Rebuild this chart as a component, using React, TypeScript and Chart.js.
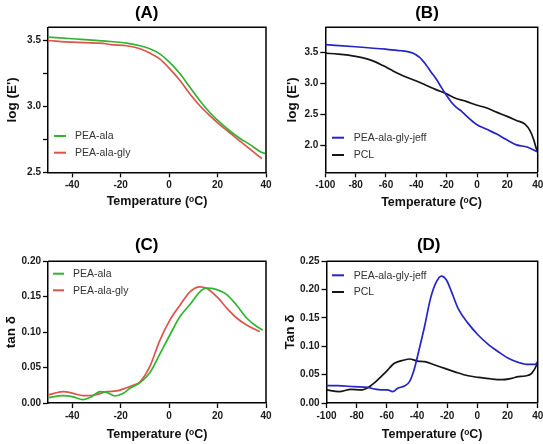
import React, { useEffect, useRef } from "react";
import { Chart, registerables } from "chart.js";
Chart.register(...registerables);

const FONT = '"Liberation Sans", Arial, Helvetica, sans-serif';
const W = 543;
const H = 444;

// ---------- Panel A : log(E') ----------
const aAlaTemp = [-50, -40, -26, -17.5, -12, -8, -4, 0, 4.5, 8.6, 12.7, 16.8, 21, 25, 29, 33.4, 38.3, 39.6];
const aAlaLogE = [3.525, 3.513, 3.495, 3.48, 3.46, 3.437, 3.4, 3.337, 3.247, 3.145, 3.043, 2.954, 2.878, 2.815, 2.76, 2.71, 2.65, 2.643];
const aGlyTemp = [-50, -40, -30, -26, -24, -17.5, -12, -8, -4, 0, 4.5, 8.6, 12.7, 16.8, 21, 25, 29, 33.4, 37.5, 38.3];
const aGlyLogE = [3.5, 3.487, 3.48, 3.475, 3.468, 3.46, 3.437, 3.405, 3.362, 3.29, 3.196, 3.094, 3.005, 2.93, 2.86, 2.8, 2.74, 2.676, 2.615, 2.605];

// ---------- Panel B : log(E') ----------
const bJeffTemp = [-100, -80, -60, -50, -45, -42, -40, -38, -36, -34, -32, -30, -27, -24, -20.5, -17, -13.8, -10, -7, -0.5, 6, 13, 19.4, 26, 33, 40];
const bJeffLogE = [3.63, 3.595, 3.555, 3.53, 3.512, 3.49, 3.462, 3.425, 3.375, 3.315, 3.245, 3.175, 3.075, 2.955, 2.82, 2.7, 2.615, 2.545, 2.475, 2.34, 2.26, 2.18, 2.09, 2.005, 1.97, 1.89];
const bPclTemp = [-100, -91.5, -80, -72, -67, -62, -57, -52, -46, -40, -34, -27, -20.5, -13.8, -7.2, -0.5, 6, 12.8, 19.4, 26, 31.6, 35, 37.2, 39.3, 40];
const bPclLogE = [3.49, 3.475, 3.44, 3.395, 3.35, 3.29, 3.225, 3.16, 3.095, 3.04, 2.975, 2.9, 2.835, 2.755, 2.71, 2.65, 2.605, 2.535, 2.47, 2.4, 2.34, 2.23, 2.1, 1.93, 1.89];

// ---------- Panel C : tan delta ----------
const cAlaTemp = [-50, -44, -40, -35.5, -32, -28.6, -25.8, -22.4, -18.9, -16.2, -12, -7.9, -4, 0.3, 4.5, 8.6, 12.7, 15.5, 19.7, 23.8, 27.9, 32, 36.2, 38.7];
const cAlaTan = [0.0075, 0.0103, 0.009, 0.0047, 0.009, 0.016, 0.015, 0.0099, 0.0137, 0.0207, 0.0287, 0.043, 0.068, 0.096, 0.122, 0.139, 0.157, 0.162, 0.16, 0.153, 0.138, 0.12, 0.108, 0.103];
const cGlyTemp = [-50, -43.7, -40, -35.5, -30.6, -25.8, -21.7, -18.2, -14.8, -12, -7.9, -4, 0.3, 4.5, 8.6, 12.7, 15.5, 19.7, 23.8, 27.9, 32, 36.9, 37.5];
const cGlyTan = [0.0113, 0.016, 0.014, 0.0103, 0.0113, 0.016, 0.017, 0.0207, 0.025, 0.03, 0.052, 0.087, 0.117, 0.138, 0.157, 0.164, 0.162, 0.15, 0.134, 0.12, 0.11, 0.1017, 0.101];

// ---------- Panel D : tan delta ----------
const dJeffTemp = [-100, -92.7, -81.6, -72.8, -68.3, -63.9, -59.5, -56.1, -52.8, -48.4, -45, -41.7, -38.4, -35, -31, -27.1, -23.8, -20.5, -17.1, -12.8, -6.1, 0.5, 7.2, 13.8, 20.5, 27.1, 33.8, 38.2, 40];
const dJeffTan = [0.0305, 0.0305, 0.0288, 0.0277, 0.0247, 0.023, 0.023, 0.02, 0.026, 0.03, 0.0376, 0.061, 0.0965, 0.135, 0.185, 0.214, 0.224, 0.217, 0.196, 0.167, 0.1405, 0.12, 0.1035, 0.0905, 0.0788, 0.0717, 0.068, 0.068, 0.072];
const dPclTemp = [-100, -91.6, -83.8, -77.2, -71.6, -66.1, -60.6, -55, -48.4, -45, -39.5, -34.9, -28.2, -21.6, -14.9, -6.1, 0.5, 9.4, 16.1, 22.7, 27.1, 31.6, 36, 39.3, 40];
const dPclTan = [0.023, 0.02, 0.024, 0.023, 0.0288, 0.0406, 0.055, 0.07, 0.0758, 0.0776, 0.074, 0.073, 0.067, 0.061, 0.055, 0.048, 0.0453, 0.0423, 0.0411, 0.0435, 0.0464, 0.0476, 0.0524, 0.067, 0.073];

// ---------- Ticks ----------
const xTicksShort = [-40, -20, 0, 20, 40];
const xTicksLong = [-100, -80, -60, -40, -20, 0, 20, 40];
const yTicksA = [2.5, 2.75, 3.0, 3.25, 3.5];
const yTicksB = [2.0, 2.5, 3.0, 3.5];
const yTicksC = [0, 0.05, 0.1, 0.15, 0.2];
const yTicksD = [0, 0.05, 0.1, 0.15, 0.2, 0.25];

const GREEN = "#2fb52f";
const RED = "#e0524c";
const BLUE = "#2424c8";
const BLACK = "#151515";

type Series = { label: string; xs: number[]; ys: number[]; color: string };
type PanelCfg = {
  area: { left: number; right: number; top: number; bottom: number };
  xMin: number; xMax: number; xTicks: number[];
  yMin: number; yMax: number; yTicks: number[]; yDec: number; yLabelStep: number;
  yTitle: string; yTitleX: number; xTitleY: number;
  title: string; titleX: number; titleY: number;
  series: Series[];
  legend: { x1: number; x2: number; tx: number; ys: number[] };
};

const Y_TITLE_SIZE = 13.5;
const X_TITLE_SIZE = 12.5;

const panels: PanelCfg[] = [
  {
    area: { left: 48, right: 266, top: 27.3, bottom: 172.3 },
    xMin: -50, xMax: 40, xTicks: xTicksShort,
    yMin: 2.5, yMax: 3.6, yTicks: yTicksA, yDec: 1, yLabelStep: 0.5,
    yTitle: "log (E')", yTitleX: 12, xTitleY: 201.7,
    title: "(A)", titleX: 146.7, titleY: 13.5,
    series: [
      { label: "PEA-ala", xs: aAlaTemp, ys: aAlaLogE, color: GREEN },
      { label: "PEA-ala-gly", xs: aGlyTemp, ys: aGlyLogE, color: RED },
    ],
    legend: { x1: 54, x2: 66, tx: 75, ys: [136, 152.7] },
  },
  {
    area: { left: 325.3, right: 537.7, top: 27.3, bottom: 172.3 },
    xMin: -100, xMax: 40, xTicks: xTicksLong,
    yMin: 1.56, yMax: 3.91, yTicks: yTicksB, yDec: 1, yLabelStep: 0.5,
    yTitle: "log (E')", yTitleX: 292, xTitleY: 202.7,
    title: "(B)", titleX: 427, titleY: 13.5,
    series: [
      { label: "PEA-ala-gly-jeff", xs: bJeffTemp, ys: bJeffLogE, color: BLUE },
      { label: "PCL", xs: bPclTemp, ys: bPclLogE, color: BLACK },
    ],
    legend: { x1: 332, x2: 344, tx: 353.7, ys: [137.7, 155] },
  },
  {
    area: { left: 48, right: 266, top: 261.3, bottom: 403 },
    xMin: -50, xMax: 40, xTicks: xTicksShort,
    yMin: 0, yMax: 0.2, yTicks: yTicksC, yDec: 2, yLabelStep: 0.05,
    yTitle: "tan δ", yTitleX: 11.5, xTitleY: 434.3,
    title: "(C)", titleX: 146.7, titleY: 245.3,
    series: [
      { label: "PEA-ala", xs: cAlaTemp, ys: cAlaTan, color: GREEN },
      { label: "PEA-ala-gly", xs: cGlyTemp, ys: cGlyTan, color: RED },
    ],
    legend: { x1: 53, x2: 64, tx: 73, ys: [273.7, 290.3] },
  },
  {
    area: { left: 326.5, right: 537.7, top: 261.3, bottom: 403 },
    xMin: -100, xMax: 40, xTicks: xTicksLong,
    yMin: 0, yMax: 0.25, yTicks: yTicksD, yDec: 2, yLabelStep: 0.05,
    yTitle: "Tan δ", yTitleX: 290.3, xTitleY: 434.3,
    title: "(D)", titleX: 428.7, titleY: 245.3,
    series: [
      { label: "PEA-ala-gly-jeff", xs: dJeffTemp, ys: dJeffTan, color: BLUE },
      { label: "PCL", xs: dPclTemp, ys: dPclTan, color: BLACK },
    ],
    legend: { x1: 332, x2: 344, tx: 353.7, ys: [275.3, 292] },
  },
];

function makeChart(canvas: HTMLCanvasElement, p: PanelCfg) {
  const yHalf = (Y_TITLE_SIZE * 1.2) / 2;
  const xHalf = (X_TITLE_SIZE * 1.2) / 2;
  const padLeft = p.yTitleX - yHalf;
  const yW = p.area.left - padLeft;
  const scaleBottom = p.xTitleY + xHalf;
  const padBottom = H - scaleBottom;
  const xH = scaleBottom - p.area.bottom;

  const decor = {
    id: "decor" + p.title,
    afterDraw(chart: any) {
      const ctx = chart.ctx as CanvasRenderingContext2D;
      const a = chart.chartArea;
      ctx.save();
      // frame top & right
      ctx.strokeStyle = "#000";
      ctx.lineWidth = 1.5;
      ctx.beginPath();
      ctx.moveTo(a.left, a.top);
      ctx.lineTo(a.right, a.top);
      ctx.lineTo(a.right, a.bottom);
      ctx.stroke();
      // panel title
      ctx.fillStyle = "#000";
      ctx.font = `bold 17px ${FONT}`;
      ctx.textAlign = "center";
      ctx.textBaseline = "middle";
      ctx.fillText(p.title, p.titleX, p.titleY);
      // legend
      ctx.font = `10.5px ${FONT}`;
      ctx.textAlign = "left";
      p.series.forEach((s, i) => {
        const y = p.legend.ys[i];
        ctx.strokeStyle = s.color;
        ctx.lineWidth = 2;
        ctx.beginPath();
        ctx.moveTo(p.legend.x1, y);
        ctx.lineTo(p.legend.x2, y);
        ctx.stroke();
        ctx.fillStyle = "#333";
        ctx.fillText(s.label, p.legend.tx, y + 0.5);
      });
      ctx.restore();
    },
  };

  const isLabeled = (v: number) => {
    const r = v / p.yLabelStep;
    return Math.abs(r - Math.round(r)) < 1e-6;
  };

  return new Chart(canvas, {
    type: "line",
    data: {
      datasets: p.series.map((s) => ({
        label: s.label,
        data: s.xs.map((x, i) => ({ x, y: s.ys[i] })),
        borderColor: s.color,
        borderWidth: 1.7,
        pointRadius: 0,
        fill: false,
        cubicInterpolationMode: "monotone" as const,
      })),
    },
    options: {
      responsive: false,
      animation: false,
      events: [],
      layout: {
        padding: { left: padLeft, right: W - p.area.right, top: p.area.top, bottom: padBottom },
      },
      plugins: {
        legend: { display: false },
        title: { display: false },
        tooltip: { enabled: false },
      },
      scales: {
        x: {
          type: "linear",
          min: p.xMin,
          max: p.xMax,
          afterBuildTicks: (s: any) => {
            s.ticks = p.xTicks.map((v) => ({ value: v }));
          },
          afterFit: (s: any) => {
            s.height = xH;
            s.paddingLeft = 0;
            s.paddingRight = 0;
          },
          ticks: {
            autoSkip: false,
            maxRotation: 0,
            padding: 2,
            color: "#1a1a1a",
            font: { family: FONT, size: 10, weight: "bold" },
            callback: (v: any) => String(v),
          },
          grid: {
            display: true,
            drawOnChartArea: false,
            drawTicks: true,
            tickLength: 5,
            tickColor: "#000",
            tickWidth: 1.3,
          },
          border: { display: true, color: "#000", width: 1.5 },
          title: {
            display: true,
            text: "Temperature (ᵒC)",
            color: "#111",
            padding: 0,
            font: { family: FONT, size: X_TITLE_SIZE, weight: "bold" },
          },
        },
        y: {
          type: "linear",
          min: p.yMin,
          max: p.yMax,
          afterBuildTicks: (s: any) => {
            s.ticks = p.yTicks.map((v) => ({ value: v }));
          },
          afterFit: (s: any) => {
            s.width = yW;
            s.paddingTop = 0;
            s.paddingBottom = 0;
          },
          ticks: {
            autoSkip: false,
            padding: 2,
            color: "#1a1a1a",
            font: { family: FONT, size: 10, weight: "bold" },
            callback: (v: any) => (isLabeled(Number(v)) ? Number(v).toFixed(p.yDec) : ""),
          },
          grid: {
            display: true,
            drawOnChartArea: false,
            drawTicks: true,
            tickLength: 5,
            tickColor: "#000",
            tickWidth: 1.3,
          },
          border: { display: true, color: "#000", width: 1.5 },
          title: {
            display: true,
            text: p.yTitle,
            color: "#111",
            padding: 0,
            font: { family: FONT, size: Y_TITLE_SIZE, weight: "bold" },
          },
        },
      },
    } as any,
    plugins: [decor],
  });
}

function Panel({ cfg }: { cfg: PanelCfg }) {
  const ref = useRef<HTMLCanvasElement | null>(null);
  useEffect(() => {
    if (!ref.current) return;
    const chart = makeChart(ref.current, cfg);
    return () => chart.destroy();
  }, [cfg]);
  return (
    <canvas
      ref={ref}
      width={W}
      height={H}
      style={{ position: "absolute", left: 0, top: 0, width: W, height: H, display: "block" }}
    />
  );
}

export default function App() {
  return (
    <div
      style={{
        position: "fixed",
        left: 0,
        top: 0,
        width: W,
        height: H,
        background: "#fff",
        overflow: "hidden",
      }}
    >
      {panels.map((p) => (
        <Panel key={p.title} cfg={p} />
      ))}
    </div>
  );
}
